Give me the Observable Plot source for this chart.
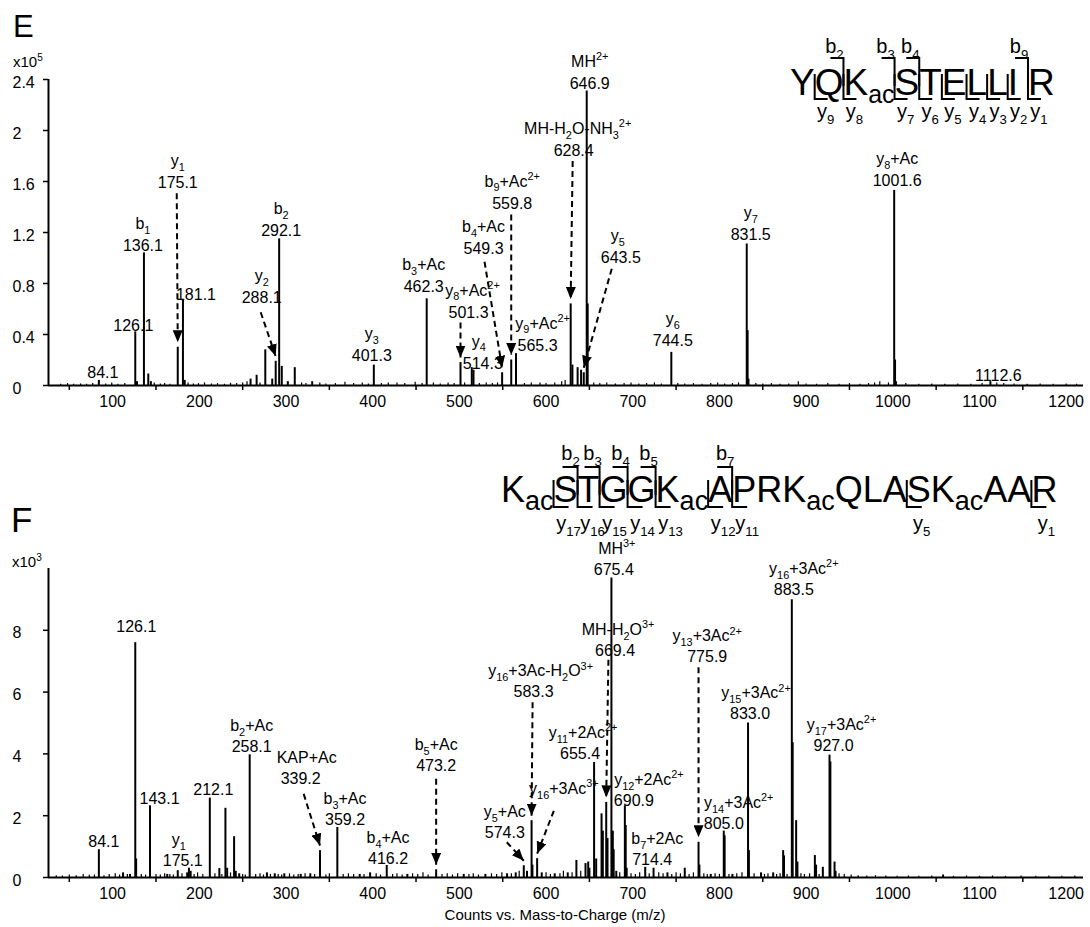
<!DOCTYPE html>
<html>
<head>
<meta charset="utf-8">
<script src="https://cdn.jsdelivr.net/npm/d3@7"></script>
<script src="https://cdn.jsdelivr.net/npm/@observablehq/plot@0.6"></script>
<style>
  html, body { margin: 0; padding: 0; background: #fff; }
  #figure { position: relative; width: 1090px; height: 927px; overflow: hidden; }
  #figure > svg { position: absolute; left: 0; }
</style>
</head>
<body>
<div id="figure"></div>
<script>
// ===================== Panel E: YQK(ac)STELLIR, counts x10^5 =====================
const peaksE = [
  [84.1, 0.04], [126.1, 0.42], [128.1, 0.03], [136.1, 1.04], [141.1, 0.09], [144.1, 0.03],
  [175.1, 0.30], [181.1, 0.67], [183.1, 0.04], [259.1, 0.05], [266.1, 0.08], [276.1, 0.28],
  [284.1, 0.05], [288.1, 0.19], [292.1, 1.15], [295.1, 0.15], [302.1, 0.03], [310.1, 0.14],
  [330.2, 0.03], [401.3, 0.16], [462.3, 0.68], [501.3, 0.18], [514.3, 0.14], [516.3, 0.12],
  [549.3, 0.10], [559.8, 0.20], [565.3, 0.25], [628.4, 0.64], [630.4, 0.16], [636.4, 0.14],
  [640.4, 0.12], [643.5, 0.10], [646.9, 2.31], [648.0, 0.64], [744.5, 0.26], [831.5, 1.11],
  [832.5, 0.43], [833.5, 0.05], [1001.6, 1.53], [1002.6, 0.20], [1003.6, 0.03], [1112.6, 0.03]
];
const noiseE = [
  [40, 0.01], [48, 0.015], [55, 0.01], [63, 0.012], [70, 0.01], [77, 0.015], [92, 0.012], [99, 0.02],
  [106, 0.01], [114, 0.015], [148, 0.02], [155, 0.012], [160, 0.015], [166, 0.01], [187, 0.02],
  [193, 0.012], [199, 0.015], [206, 0.02], [214, 0.012], [221, 0.015], [229, 0.01], [236, 0.018],
  [243, 0.015], [250, 0.02], [255, 0.03], [270, 0.02], [318, 0.02], [323, 0.015], [339, 0.02],
  [346, 0.012], [357, 0.015], [368, 0.025], [378, 0.015], [388, 0.02], [395, 0.012], [410, 0.015],
  [418, 0.02], [428, 0.02], [437, 0.015], [449, 0.025], [457, 0.015], [470, 0.02], [478, 0.012],
  [487, 0.02], [494, 0.015], [506, 0.02], [523, 0.015], [531, 0.02], [538, 0.015], [544, 0.02],
  [575, 0.015], [583, 0.02], [593, 0.02], [600, 0.015], [610, 0.02], [618, 0.03], [622, 0.04],
  [655, 0.02], [662, 0.015], [670, 0.02], [680, 0.012], [690, 0.015], [698, 0.02], [707, 0.012],
  [716, 0.015], [725, 0.02], [733, 0.012], [752, 0.015], [760, 0.012], [770, 0.015], [780, 0.01],
  [790, 0.015], [798, 0.02], [806, 0.012], [815, 0.015], [822, 0.02], [842, 0.015], [850, 0.012],
  [860, 0.015], [870, 0.01], [880, 0.012], [891, 0.03], [900, 0.012], [912, 0.01], [925, 0.015],
  [938, 0.01], [950, 0.015], [962, 0.01], [972, 0.015], [979, 0.02], [985, 0.03], [995, 0.02],
  [1015, 0.015], [1030, 0.01], [1045, 0.012], [1060, 0.01], [1075, 0.012], [1090, 0.01],
  [1103, 0.015], [1120, 0.02], [1128, 0.015], [1140, 0.012], [1155, 0.01], [1170, 0.012],
  [1185, 0.01], [1200, 0.012], [1212, 0.01]
];
// annotated fragment ions (m/z shown as the number under the ion name)
const ionsE = [
  {mz: 84.1}, {mz: 126.1}, {mz: 136.1, ion: "b_{1}"}, {mz: 175.1, ion: "y_{1}"}, {mz: 181.1},
  {mz: 288.1, ion: "y_{2}"}, {mz: 292.1, ion: "b_{2}"}, {mz: 401.3, ion: "y_{3}"},
  {mz: 462.3, ion: "b_{3}+Ac"}, {mz: 501.3, ion: "y_{8}+Ac^{2+}"}, {mz: 514.3, ion: "y_{4}"},
  {mz: 549.3, ion: "b_{4}+Ac"}, {mz: 559.8, ion: "b_{9}+Ac^{2+}"}, {mz: 565.3, ion: "y_{9}+Ac^{2+}"},
  {mz: 628.4, ion: "MH-H_{2}O-NH_{3}^{2+}"}, {mz: 643.5, ion: "y_{5}"}, {mz: 646.9, ion: "MH^{2+}"},
  {mz: 744.5, ion: "y_{6}"}, {mz: 831.5, ion: "y_{7}"}, {mz: 1001.6, ion: "y_{8}+Ac"}, {mz: 1112.6}
];
const yTicksE = [0, 0.4, 0.8, 1.2, 1.6, 2, 2.4];
const residuesE = [["Y"], ["Q"], ["K", "ac"], ["S"], ["T"], ["E"], ["L"], ["L"], ["I"], ["R"]];
const bIonsE = [2, 3, 4, 9];
const yIonsE = [1, 2, 3, 4, 5, 6, 7, 8, 9];

// ===================== Panel F: K(ac)STGGK(ac)APRK(ac)QLASK(ac)AAR, counts x10^3 =====================
const peaksF = [
  [84.1, 0.9], [112, 0.15], [120, 0.1], [126.1, 7.6], [127.1, 0.6], [143.1, 2.32], [163, 0.1],
  [175.1, 0.22], [186, 0.15], [188, 0.3], [190, 0.2], [212.1, 2.57], [223.1, 0.29], [230.1, 2.24],
  [232.1, 0.3], [240.1, 1.32], [242, 0.2], [246, 0.12], [258.1, 3.97], [278, 0.15], [287, 0.12],
  [298, 0.12], [317, 0.1], [328, 0.12], [339.2, 0.87], [359.2, 1.62], [385, 0.1], [397, 0.15],
  [416.2, 0.39], [440, 0.1], [473.2, 0.25], [505, 0.1], [530, 0.1], [555, 0.12], [565, 0.15],
  [574.3, 0.38], [578, 0.2], [583.3, 1.84], [584.3, 0.4], [589.7, 0.61], [595, 0.15], [610, 0.12],
  [625, 0.15], [635, 0.55], [645.5, 0.45], [648.6, 0.5], [650, 0.3], [655.4, 3.72], [657.8, 0.6],
  [664.0, 2.06], [665.5, 1.5], [669.4, 2.43], [670.9, 1.26], [675.4, 9.69], [677.0, 1.5],
  [678.0, 0.9], [681, 0.2], [690.9, 2.32], [691.9, 1.68], [693, 0.3], [714.4, 0.33], [724, 0.3],
  [740, 0.15], [760, 0.3], [775.9, 1.14], [776.9, 0.4], [790, 0.1], [805.0, 1.5], [806.0, 1.35],
  [815, 0.1], [833.0, 5.0], [834.0, 0.87], [848, 0.15], [862, 0.15], [873.5, 0.87], [874.5, 0.7],
  [883.5, 8.99], [884.5, 4.36], [888.5, 1.84], [890, 0.5], [910.1, 0.71], [911.5, 0.4],
  [919.3, 0.33], [927.0, 3.96], [928.0, 3.74], [932.8, 0.5], [934, 0.2], [1058, 0.08]
];
const noiseF = [
  [35, 0.06], [42, 0.05], [50, 0.08], [58, 0.06], [66, 0.1], [73, 0.07], [79, 0.08], [90, 0.06],
  [96, 0.1], [103, 0.12], [108, 0.08], [117, 0.1], [133, 0.1], [138, 0.08], [150, 0.1], [155, 0.08],
  [160, 0.12], [166, 0.1], [170, 0.08], [180, 0.12], [194, 0.1], [198, 0.15], [204, 0.1], [218, 0.12],
  [226, 0.1], [236, 0.15], [250, 0.1], [253, 0.08], [265, 0.1], [270, 0.12], [274, 0.08], [282, 0.1],
  [291, 0.1], [295, 0.08], [304, 0.12], [309, 0.08], [314, 0.1], [322, 0.12], [333, 0.1], [346, 0.08],
  [350, 0.12], [366, 0.1], [372, 0.12], [378, 0.1], [390, 0.1], [404, 0.12], [409, 0.08], [423, 0.1],
  [428, 0.12], [434, 0.08], [446, 0.12], [452, 0.1], [458, 0.15], [464, 0.08], [480, 0.1], [486, 0.12],
  [492, 0.08], [498, 0.12], [511, 0.1], [516, 0.12], [522, 0.08], [537, 0.12], [543, 0.1], [549, 0.15],
  [560, 0.12], [569, 0.2], [600, 0.15], [605, 0.1], [616, 0.12], [620, 0.2], [630, 0.15], [640, 0.2],
  [685, 0.15], [698, 0.12], [703, 0.1], [708, 0.15], [719, 0.12], [730, 0.15], [735, 0.12], [745, 0.1],
  [750, 0.15], [755, 0.12], [765, 0.1], [770, 0.15], [782, 0.12], [786, 0.1], [795, 0.12], [800, 0.1],
  [811, 0.1], [820, 0.12], [826, 0.15], [840, 0.12], [852, 0.1], [856, 0.12], [866, 0.1], [870, 0.12],
  [878, 0.1], [894, 0.12], [898, 0.1], [904, 0.12], [915, 0.1], [938, 0.12], [944, 0.1], [952, 0.08],
  [960, 0.06], [970, 0.05], [980, 0.06], [992, 0.05], [1005, 0.04], [1018, 0.05], [1030, 0.04],
  [1045, 0.05], [1070, 0.04], [1085, 0.05], [1100, 0.04], [1115, 0.05], [1130, 0.04], [1148, 0.05],
  [1165, 0.04], [1180, 0.05], [1195, 0.04], [1210, 0.05]
];
const ionsF = [
  {mz: 84.1}, {mz: 126.1}, {mz: 143.1}, {mz: 175.1, ion: "y_{1}"}, {mz: 212.1},
  {mz: 258.1, ion: "b_{2}+Ac"}, {mz: 339.2, ion: "KAP+Ac"}, {mz: 359.2, ion: "b_{3}+Ac"},
  {mz: 416.2, ion: "b_{4}+Ac"}, {mz: 473.2, ion: "b_{5}+Ac"}, {mz: 574.3, ion: "y_{5}+Ac"},
  {mz: 583.3, ion: "y_{16}+3Ac-H_{2}O^{3+}"}, {mz: 589.7, ion: "y_{16}+3Ac^{3+}", value: false},
  {mz: 655.4, ion: "y_{11}+2Ac^{2+}"}, {mz: 669.4, ion: "MH-H_{2}O^{3+}"}, {mz: 675.4, ion: "MH^{3+}"},
  {mz: 690.9, ion: "y_{12}+2Ac^{2+}"}, {mz: 714.4, ion: "b_{7}+2Ac"}, {mz: 775.9, ion: "y_{13}+3Ac^{2+}"},
  {mz: 805.0, ion: "y_{14}+3Ac^{2+}"}, {mz: 833.0, ion: "y_{15}+3Ac^{2+}"},
  {mz: 883.5, ion: "y_{16}+3Ac^{2+}"}, {mz: 927.0, ion: "y_{17}+3Ac^{2+}"}
];
const yTicksF = [0, 2, 4, 6, 8];
const residuesF = [["K", "ac"], ["S"], ["T"], ["G"], ["G"], ["K", "ac"], ["A"], ["P"], ["R"], ["K", "ac"],
  ["Q"], ["L"], ["A"], ["S"], ["K", "ac"], ["A"], ["A"], ["R"]];
const bIonsF = [2, 3, 4, 5, 7];
const yIonsF = [17, 16, 15, 14, 13, 12, 11, 5, 1];

// shared m/z axis
const mzDomain = [26, 1220];
const mzTicks = [50, 150, 250, 350, 450, 550, 650, 750, 850, 950, 1050, 1150];
const mzLabels = [100, 200, 300, 400, 500, 600, 700, 800, 900, 1000, 1100, 1200];

// ===================== label placement (pixel offsets from each peak top) =====================
// dx/dy place the m/z number's baseline; ix shifts the ion name; arrow = dashed callout start offset
const calloutsE = {
  84.1: {dx: 4, dy: -2}, 126.1: {dx: -2, dy: -1}, 136.1: {dx: -1, dy: -2},
  175.1: {dx: 0, dy: -159, arrow: [-1, 5]}, 181.1: {dx: 13, dy: 0},
  288.1: {dx: -14, dy: -58, arrow: [-1, 9]}, 292.1: {dx: 2, dy: -3}, 401.3: {dx: -2, dy: -4},
  462.3: {dx: -3, dy: -7}, 501.3: {dx: 8, dy: -45, arrow: [-8, 5], ix: 4}, 514.3: {dx: 11, dy: 1, ix: -4},
  549.3: {dx: -18.6, dy: -119, arrow: [1, 8]}, 559.8: {dx: 1, dy: -151.5, arrow: [-1, 6]},
  565.3: {dx: 21.6, dy: -3, ix: 5}, 628.4: {dx: 3, dy: -148, arrow: [-1, 5], ix: 4},
  643.5: {dx: 37, dy: -110, arrow: [-9, 6], ix: -3}, 646.9: {dx: 3, dy: -2},
  744.5: {dx: 1.5, dy: -6}, 831.5: {dx: 4, dy: -3.5}, 1001.6: {dx: 3, dy: -4}, 1112.6: {dx: 8, dy: -1}
};
const calloutsF = {
  84.1: {dx: 5, dy: -2.5}, 126.1: {dx: 1, dy: -11}, 143.1: {dx: 9.5, dy: -2},
  175.1: {dx: 5, dy: -5, ix: -4}, 212.1: {dx: 3.5, dy: -3}, 258.1: {dx: 2, dy: -3},
  339.2: {dx: -19.3, dy: -66.7, arrow: [3, 10], ix: 6}, 359.2: {dx: 7.7, dy: -2},
  416.2: {dx: 1.3, dy: -1}, 473.2: {dx: 0, dy: -99, arrow: [0, 8]},
  574.3: {dx: -19, dy: -27.5, arrow: [2, 4]}, 583.3: {dx: 2, dy: -123.3, arrow: [-1, 5], ix: 7},
  589.7: {dx: 26.7, dy: -64.8, arrow: [-10, 17]}, 655.4: {dx: -14, dy: -3.4, ix: 3},
  669.4: {dx: 8.8, dy: -146.7, arrow: [-6.6, 4], ix: 3}, 675.4: {dx: 2.4, dy: -3.3, ix: 3},
  690.9: {dx: 9, dy: 0, ix: 15}, 714.4: {dx: 7, dy: -2, ix: 5},
  775.9: {dx: 8.7, dy: -180, arrow: [-8.7, 5]}, 805: {dx: 0, dy: -2.2, ix: 15},
  833: {dx: 2, dy: -3.7, ix: 6}, 883.5: {dx: 2, dy: -5, ix: 10}, 927: {dx: 4, dy: -4, ix: 8}
};

const FONT = "Liberation Sans, Arial, Helvetica, sans-serif";
const SVGNS = "http://www.w3.org/2000/svg";
const W = 1090, M_LEFT = 48, M_RIGHT = 7;
const TICK_LABEL_X = 12; // left edge of the y tick labels

// filled triangular arrowhead used at the end of dashed callouts
function arrowHead() {
  const m = document.createElementNS(SVGNS, "marker");
  m.setAttribute("viewBox", "0 -5 12 10");
  m.setAttribute("markerWidth", 12);
  m.setAttribute("markerHeight", 10);
  m.setAttribute("markerUnits", "userSpaceOnUse");
  m.setAttribute("refX", 12);
  m.setAttribute("refY", 0);
  m.setAttribute("orient", "auto");
  const p = document.createElementNS(SVGNS, "path");
  p.setAttribute("d", "M0,-5L12,0L0,5Z");
  p.setAttribute("fill", "black");
  p.setAttribute("stroke", "none");
  m.appendChild(p);
  return m;
}

// turn "y_{16}+3Ac^{2+}" into tspans with subscripts / superscripts
function richText(el, size) {
  const s = el.textContent;
  if (!/[_^]\{/.test(s)) return;
  el.textContent = "";
  const re = /([_^])\{([^}]*)\}|([^_^]+)/g;
  let m, shift = 0;
  while ((m = re.exec(s))) {
    const ts = document.createElementNS(SVGNS, "tspan");
    if (m[3] !== undefined) {
      ts.textContent = m[3];
      if (shift) { ts.setAttribute("dy", -shift); shift = 0; }
    } else {
      const d = m[1] === "_" ? 0.3 * size : -0.42 * size;
      ts.setAttribute("dy", d - shift);
      shift = d;
      ts.setAttribute("font-size", 0.68 * size);
      ts.textContent = m[2];
    }
    el.appendChild(ts);
  }
}

function spectrum({peaks, noise, ions, callouts, yDomain, yTicks, height, marginTop, marginBottom, lineGap}) {
  const plotH = height - marginTop - marginBottom;
  const kx = (W - M_LEFT - M_RIGHT) / (mzDomain[1] - mzDomain[0]);
  const ky = plotH / (yDomain[1] - yDomain[0]);
  const level = new Map(peaks.map(([x, y]) => [x, y]));
  const gap = 5;
  const labelMarks = [];
  for (const d of ions) {
    const L = callouts[d.mz] || {};
    const dx = L.dx ?? 0, dy = L.dy ?? -3;
    const datum = {mz: d.mz, level: level.get(d.mz), ion: d.ion};
    const hasValue = d.value !== false;
    if (hasValue) {
      labelMarks.push(Plot.text([datum], {x: "mz", y: "level", text: (p) => p.mz.toFixed(1),
        dx, dy, lineAnchor: "bottom", fontSize: 16, fill: "black"}));
    }
    if (d.ion) {
      labelMarks.push(Plot.text([datum], {x: "mz", y: "level", text: "ion",
        dx: dx + (L.ix ?? 0), dy: hasValue ? dy - lineGap : dy, lineAnchor: "bottom", fontSize: 16, fill: "black"}));
    }
    if (L.arrow) {
      const [sx, sy] = L.arrow;
      const seg = {
        x1: d.mz + (dx + sx) / kx, y1: datum.level - (dy + sy) / ky,
        x2: d.mz, y2: datum.level + gap / ky
      };
      labelMarks.push(Plot.link([seg], {x1: "x1", y1: "y1", x2: "x2", y2: "y2", stroke: "black",
        strokeWidth: 2, strokeDasharray: "6,4", markerEnd: arrowHead}));
    }
  }
  const svg = Plot.plot({
    width: W, height, marginLeft: M_LEFT, marginRight: M_RIGHT, marginTop, marginBottom,
    style: {fontFamily: FONT, fontSize: "16px", color: "black", background: "transparent"},
    x: {domain: mzDomain},
    y: {domain: yDomain},
    marks: [
      Plot.ruleX(noise, {x: (d) => d[0], y1: 0, y2: (d) => d[1], stroke: "black", strokeWidth: 1.2}),
      Plot.ruleX(peaks, {x: (d) => d[0], y1: 0, y2: (d) => d[1], stroke: "black", strokeWidth: 2}),
      Plot.ruleY([yDomain[0]], {stroke: "black", strokeWidth: 2}),
      Plot.ruleX([mzDomain[0]], {stroke: "black", strokeWidth: 2}),
      // tick marks between the labelled hundreds
      Plot.axisX({ticks: mzTicks, tickSize: 5, tickFormat: () => "", label: null, strokeWidth: 1.5}),
      Plot.axisX({ticks: mzLabels, tickSize: 0, tickPadding: 10, label: null, fontSize: 16,
        tickFormat: (v) => String(v)}),
      // y ticks, then left-aligned y tick labels
      Plot.axisY({ticks: yTicks, tickSize: 5, tickFormat: () => "", label: null, strokeWidth: 1.5}),
      Plot.axisY({ticks: yTicks, tickSize: 0, tickPadding: 0, textAnchor: "start",
        dx: TICK_LABEL_X - M_LEFT, dy: 3, tickFormat: (v) => `${+v.toFixed(1)}`, label: null, fontSize: 16}),
      ...labelMarks
    ]
  });
  svg.querySelectorAll("text").forEach((t) => richText(t, 16));
  return svg;
}

const fig = document.getElementById("figure");

const svgE = spectrum({peaks: peaksE, noise: noiseE, ions: ionsE, callouts: calloutsE,
  yDomain: [0, 2.4], yTicks: yTicksE, height: 425, marginTop: 79, marginBottom: 40, lineGap: 22});
svgE.style.top = "0px";
fig.appendChild(svgE);

const svgF = spectrum({peaks: peaksF, noise: noiseF, ions: ionsF, callouts: calloutsF,
  yDomain: [0, 10], yTicks: yTicksF, height: 470, marginTop: 128, marginBottom: 33, lineGap: 21});
svgF.style.top = "440px";
fig.appendChild(svgF);

// ===================== panel letters, exponents, axis title and peptide maps =====================
const overlay = d3.select(fig).append("svg")
  .attr("width", W).attr("height", 927)
  .style("top", "0px").style("pointer-events", "none")
  .attr("font-family", FONT).attr("fill", "black");

overlay.append("text").attr("x", 13).attr("y", 37).attr("font-size", 31).text("E");
overlay.append("text").attr("x", 11).attr("y", 532).attr("font-size", 35).text("F");

function exponentLabel(x, y, exp) {
  const t = overlay.append("text").attr("x", x).attr("y", y).attr("font-size", 15);
  t.append("tspan").text("x10");
  t.append("tspan").attr("dy", -6).attr("font-size", 10).text(exp);
}
exponentLabel(13, 67, "5");
exponentLabel(12, 567, "3");

overlay.append("text").attr("x", 555).attr("y", 920).attr("font-size", 15)
  .attr("text-anchor", "middle").text("Counts vs. Mass-to-Charge (m/z)");

function ionTag(g, x, y, letter, n, size) {
  const t = g.append("text").attr("x", x).attr("y", y).attr("font-size", size).attr("text-anchor", "middle");
  t.append("tspan").text(letter);
  t.append("tspan").attr("dy", size * 0.28).attr("font-size", size * 0.66).text(n);
}

function drawSequence(residues, bIons, yIons, o) {
  const g = overlay.append("g");
  let x = o.x;
  const starts = [];
  residues.forEach(([aa, mod], i) => {
    x += (o.gaps && o.gaps[i]) || 0;
    starts.push(x);
    const t = g.append("text").attr("x", x).attr("y", o.baseline).attr("font-size", o.size).text(aa);
    x += t.node().getComputedTextLength();
    if (mod) {
      const s = g.append("text").attr("x", x).attr("y", o.baseline + o.modDy).attr("font-size", o.modSize).text(mod);
      x += s.node().getComputedTextLength();
    }
  });
  const n = residues.length;
  const br = g.append("g").attr("fill", "none").attr("stroke", "black").attr("stroke-width", 2);
  for (const b of bIons) {
    const bx = starts[b];
    br.append("path").attr("d", `M${bx - o.arm},${o.top}H${bx}V${o.bEnd}`);
    ionTag(g, bx + o.bLabelDx, o.bLabelY, "b", b, o.tagSize);
  }
  for (const y of yIons) {
    const yx = starts[n - y];
    br.append("path").attr("d", `M${yx},${o.yStart}V${o.bottom}H${yx + o.arm}`);
    ionTag(g, yx + o.yLabelDx, o.yLabelY, "y", y, o.tagSize);
  }
}

drawSequence(residuesE, bIonsE, yIonsE, {
  x: 790, baseline: 95, size: 37, modSize: 25, modDy: 8, gaps: {9: 10},
  top: 58, bottom: 99, bEnd: 86, yStart: 74, arm: 13,
  bLabelDx: -9, bLabelY: 53, yLabelDx: 11, yLabelY: 118, tagSize: 20
});
drawSequence(residuesF, bIonsF, yIonsF, {
  x: 501, baseline: 502, size: 36, modSize: 27, modDy: 8, gaps: {},
  top: 467, bottom: 507, bEnd: 495, yStart: 480, arm: 15,
  bLabelDx: -7, bLabelY: 460, yLabelDx: 15, yLabelY: 530, tagSize: 20
});
</script>
</body>
</html>
